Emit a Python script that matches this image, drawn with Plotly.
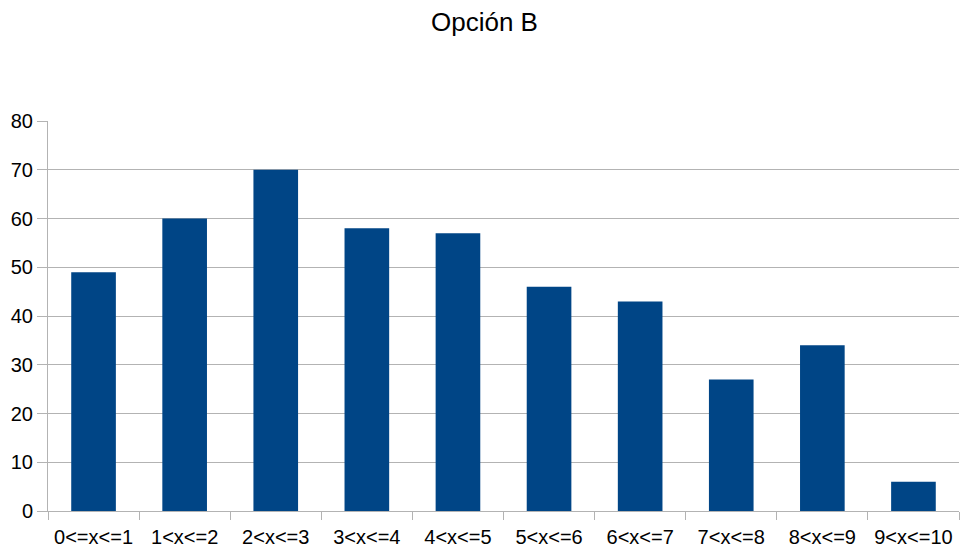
import plotly.graph_objects as go

# Intervalos de la variable y frecuencias observadas
categorias = ["0<=x<=1", "1<x<=2", "2<x<=3", "3<x<=4", "4<x<=5",
              "5<x<=6", "6<x<=7", "7<x<=8", "8<x<=9", "9<x<=10"]
frecuencias = [49, 60, 70, 58, 57, 46, 43, 27, 34, 6]

y_ticks = [0, 10, 20, 30, 40, 50, 60, 70, 80]

GRIS = "#b3b3b3"
FUENTE = "Liberation Sans, Arial, sans-serif"

fig = go.Figure(
    go.Bar(
        x=categorias,
        y=frecuencias,
        marker=dict(color="#004586", line=dict(color="#004586", width=0)),
        width=0.49,
        hoverinfo="x+y",
    )
)

fig.update_layout(
    width=961,
    height=552,
    margin=dict(l=48, r=2, t=121, b=41),
    paper_bgcolor="white",
    plot_bgcolor="white",
    showlegend=False,
    title=dict(
        text="Opción B",
        x=484.5 / 961,
        xref="container",
        xanchor="center",
        y=1 - 22 / 552,
        yanchor="middle",
        font=dict(family=FUENTE, size=26, color="#000000"),
    ),
    font=dict(family=FUENTE, size=20, color="#000000"),
)

fig.update_xaxes(
    type="category",
    showline=True,
    linecolor=GRIS,
    linewidth=1,
    ticks="outside",
    tickson="boundaries",
    ticklen=8,
    tickcolor=GRIS,
    ticklabelstandoff=8,
    showgrid=False,
    tickfont=dict(family=FUENTE, size=20, color="#000000"),
)

fig.update_yaxes(
    range=[0, 80],
    tickvals=y_ticks,
    showline=True,
    linecolor=GRIS,
    linewidth=1,
    ticks="outside",
    ticklen=10,
    tickcolor=GRIS,
    showgrid=True,
    gridcolor=GRIS,
    gridwidth=1,
    zeroline=True,
    zerolinecolor=GRIS,
    zerolinewidth=1,
    tickfont=dict(family=FUENTE, size=20, color="#000000"),
)

fig.write_html("out.html")
